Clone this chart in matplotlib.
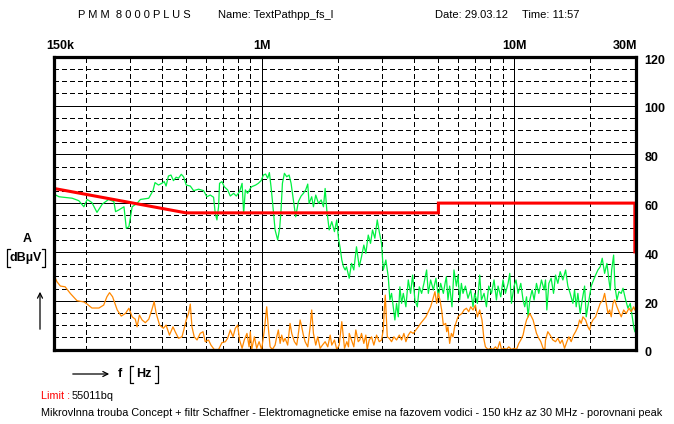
import matplotlib
matplotlib.use('Agg')
import matplotlib.pyplot as plt
import matplotlib.transforms as mtransforms
from matplotlib.lines import Line2D
from matplotlib.patches import FancyArrowPatch

plt.rcParams['font.family'] = ['Liberation Sans', 'DejaVu Sans']

# limit line (dBuV) vs frequency (MHz)
limit_f = [0.15, 0.5, 5.0, 5.0, 30.0, 30.0]
limit_db = [66.0, 56.0, 56.0, 60.0, 60.0, 40.0]

# green trace
green_f = [0.150, 0.157, 0.177, 0.188, 0.197, 0.203, 0.212, 0.222, 0.233, 0.247,
           0.259, 0.263, 0.271, 0.284, 0.290, 0.297, 0.306, 0.320, 0.330, 0.356,
           0.370, 0.377, 0.389, 0.401, 0.410, 0.417, 0.426, 0.436, 0.446, 0.457,
           0.467, 0.479, 0.489, 0.501, 0.520, 0.536, 0.561, 0.587, 0.605, 0.624,
           0.643, 0.653, 0.663, 0.673, 0.679, 0.694, 0.709, 0.731, 0.749, 0.772,
           0.791, 0.815, 0.834, 0.846, 0.859, 0.877, 0.899,
           0.910, 0.944, 0.967, 0.992, 1.013, 1.034, 1.053, 1.070, 1.086, 1.099,
           1.127, 1.154, 1.175, 1.190, 1.205, 1.227, 1.253, 1.281, 1.304, 1.332,
           1.360, 1.394, 1.429, 1.459, 1.490, 1.518, 1.537, 1.574, 1.599, 1.633,
           1.674, 1.716, 1.752, 1.779, 1.806, 1.846, 1.890, 1.937, 1.978, 2.009,
           2.041, 2.071, 2.103, 2.136,
           2.162, 2.216, 2.263, 2.311, 2.368, 2.428, 2.479, 2.532, 2.579, 2.636,
           2.692, 2.741, 2.800, 2.862, 2.914, 2.976, 3.023, 3.096, 3.164, 3.211,
           3.261, 3.312, 3.361, 3.413, 3.467, 3.518, 3.573, 3.629, 3.716, 3.798,
           3.879, 3.951, 4.035, 4.124, 4.200, 4.290, 4.381, 4.490, 4.560, 4.657,
           4.774, 4.888, 4.997, 5.103, 5.230, 5.327,
           5.376, 5.455, 5.540, 5.658, 5.762, 5.890, 5.977, 6.070, 6.165, 6.256,
           6.395, 6.549, 6.712, 6.855, 6.962, 7.136, 7.287, 7.401, 7.580, 7.747,
           7.912, 8.110, 8.305, 8.489, 8.614, 8.829, 9.016, 9.216, 9.438, 9.585,
           9.735, 9.970, 10.15, 10.34, 10.60, 10.82, 10.99, 11.17, 11.33, 11.51,
           11.75, 11.97, 12.23, 12.49, 12.80, 13.11,
           13.28, 13.44, 13.69, 13.98, 14.29, 14.55, 14.86, 15.18, 15.56, 15.95,
           16.28, 16.63, 17.05, 17.31, 17.57, 17.84, 18.22, 18.56, 18.97, 19.25,
           19.73, 20.15, 20.46, 20.97, 21.42, 21.87, 22.28, 22.77, 23.25, 23.68,
           23.97, 24.28, 24.72, 25.02, 25.48, 25.95, 26.50, 26.92, 27.59, 28.17,
           28.77, 29.30, 29.70, 30.0]
green_db = [63.7, 62.6, 62.0, 61.0, 58.5, 61.5, 60.2, 56.2, 59.6, 61.5,
            60.6, 56.5, 57.2, 58.5, 49.7, 50.3, 58.5, 59.9, 61.5, 62.0,
            65.1, 68.4, 67.4, 68.1, 68.8, 67.0, 71.1, 71.5, 69.2, 70.6,
            70.2, 71.8, 70.8, 67.4, 67.0, 65.1, 65.7, 65.1, 62.6, 63.3,
            62.4, 55.8, 53.1, 58.5, 68.1, 68.8, 66.7, 65.4, 62.9, 64.0,
            62.9, 64.7, 68.1, 55.8, 65.4, 64.0, 66.0,
            66.7, 67.4, 68.1, 69.2, 71.5, 71.9, 70.2, 72.5, 66.7, 61.3,
            49.0, 44.9, 49.7, 57.2, 68.1, 72.2, 70.8, 71.5, 68.1, 61.3,
            54.4, 60.6, 62.9, 64.0, 65.4, 67.8, 59.9, 62.6, 58.5, 63.3,
            59.9, 61.3, 58.5, 66.0, 57.2, 49.0, 52.4, 48.3, 53.1, 45.6,
            41.5, 36.7, 33.9, 32.6,
            33.9, 29.2, 35.3, 32.6, 42.1, 33.9, 38.0, 42.8, 39.4, 46.9,
            43.5, 49.0, 45.6, 53.1, 48.3, 43.5, 32.6, 36.7, 29.8, 20.3,
            23.0, 17.5, 12.1, 18.9, 13.4, 25.7, 18.9, 23.0, 17.5, 28.5,
            23.0, 30.5, 20.3, 17.5, 25.7, 23.0, 27.1, 32.6, 23.0, 28.5,
            24.4, 29.2, 21.6, 27.1, 23.0, 27.8,
            29.8, 20.3, 26.0, 17.5, 32.6, 26.0, 30.5, 20.3, 27.1, 23.0,
            26.0, 21.0, 24.4, 17.5, 23.0, 18.9, 30.5, 20.3, 23.0, 17.5,
            26.0, 23.0, 28.5, 20.3, 26.0, 21.6, 28.5, 23.0, 27.1, 31.2,
            18.9, 26.0, 28.5, 23.0, 27.1, 20.3, 17.5, 21.6, 13.4, 20.3,
            24.4, 20.3, 27.1, 23.0, 28.5, 24.4,
            28.5, 16.2, 27.1, 29.2, 23.0, 30.5, 27.1, 31.9, 28.5, 32.6,
            26.0, 23.0, 18.9, 24.4, 17.5, 23.0, 14.8, 20.3, 26.0, 13.4,
            20.3, 26.0, 27.8, 30.5, 32.6, 33.9, 37.4, 31.2, 35.3, 28.5,
            24.4, 32.6, 38.7, 26.0, 20.3, 23.7, 23.0, 25.1, 20.3, 16.9,
            18.9, 13.4, 9.3, 7.3]

# orange trace
orange_f = [0.150, 0.154, 0.159, 0.166, 0.174, 0.185, 0.197, 0.203, 0.212, 0.226,
            0.236, 0.243, 0.249, 0.256, 0.267, 0.277, 0.288, 0.297, 0.306, 0.315,
            0.320, 0.327, 0.335, 0.345, 0.356,
            0.366, 0.374, 0.381, 0.393, 0.407, 0.417, 0.430, 0.444, 0.453, 0.467,
            0.482, 0.492, 0.501, 0.512, 0.520, 0.528, 0.539, 0.553, 0.569, 0.584,
            0.596, 0.614, 0.628, 0.647, 0.673, 0.694, 0.716, 0.731, 0.749, 0.768,
            0.784, 0.801, 0.815, 0.834, 0.851, 0.872, 0.889, 0.899,
            0.910, 0.933, 0.953, 0.974, 0.997, 1.022, 1.044, 1.060, 1.077, 1.099,
            1.127, 1.144, 1.161, 1.180, 1.197, 1.216, 1.235, 1.264, 1.292, 1.312,
            1.344, 1.373, 1.394, 1.416, 1.437, 1.459, 1.482, 1.518, 1.552, 1.574,
            1.599, 1.633, 1.663, 1.700, 1.736, 1.779, 1.822, 1.863, 1.890, 1.937,
            1.978, 2.022, 2.071, 2.123, 2.168, 2.202,
            2.216, 2.263, 2.311, 2.354, 2.406, 2.441, 2.479, 2.532, 2.579, 2.612,
            2.660, 2.717, 2.774, 2.844, 2.914, 2.976, 3.023, 3.051, 3.079, 3.107,
            3.136, 3.193, 3.261, 3.331, 3.413, 3.499, 3.573, 3.649, 3.716, 3.798,
            3.879, 3.976, 4.072, 4.162, 4.250, 4.357, 4.461, 4.560, 4.657, 4.743,
            4.844, 4.920, 4.997, 5.070, 5.150, 5.230, 5.342, 5.391,
            5.455, 5.540, 5.627, 5.710, 5.799, 5.890, 5.977, 6.070, 6.199, 6.314,
            6.454, 6.591, 6.712, 6.855, 7.007, 7.136, 7.287, 7.441, 7.580, 7.676,
            7.860, 8.057, 8.228, 8.410, 8.565, 8.747, 8.885, 9.098, 9.299, 9.497,
            9.735, 9.970, 10.19, 10.41, 10.60, 10.82, 10.99, 11.17, 11.33, 11.51,
            11.69, 11.86, 12.05, 12.23, 12.49, 12.72, 12.99, 13.20,
            13.28, 13.56, 13.85, 14.20, 14.55, 14.86, 15.18, 15.46, 15.80, 16.14,
            16.43, 16.78, 17.16, 17.47, 17.84, 18.12, 18.39, 18.68, 19.14, 19.55,
            19.86, 20.15, 20.46, 20.97, 21.42, 21.87, 22.42, 22.77, 23.11, 23.47,
            23.84, 24.19, 24.57, 24.95, 25.48, 25.95, 26.50, 27.09, 27.74, 28.43,
            29.04, 29.68, 30.0]
orange_db = [30.5, 27.8, 26.0, 25.7, 23.0, 20.0, 19.5, 18.6, 17.0, 17.0,
             18.2, 21.6, 23.3, 21.6, 16.2, 13.7, 14.8, 16.9, 13.4, 12.4,
             9.3, 14.1, 12.1, 11.0, 12.4,
             16.2, 19.6, 14.8, 10.0, 8.7, 10.0, 5.9, 9.3, 7.3, 4.6,
             5.2, 8.7, 12.1, 14.8, 18.6, 9.3, 5.2, 3.9, 6.6, 7.3,
             3.2, 3.9, 1.8, 0.0, 0.0, 2.8, 3.2, 4.6, 8.0, 5.2,
             8.7, 10.0, 3.9, 0.5, 3.9, 6.6, 1.1, 7.3,
             0.0, 5.2, 0.5, 3.2, 0.0, 8.0, 17.5, 8.7, 1.1, 0.0,
             1.8, 5.2, 8.0, 2.5, 5.9, 3.2, 4.6, 1.8, 10.7, 6.6,
             3.2, 1.8, 6.6, 12.1, 9.3, 5.9, 3.2, 1.1, 9.3, 16.2,
             6.6, 1.8, 5.2, 0.5, 1.8, 3.2, 1.1, 5.9, 1.8, 3.9,
             0.0, 1.8, 11.4, 0.5, 3.2, 1.1,
             6.6, 3.9, 1.1, 8.0, 3.2, 3.9, 6.6, 2.5, 5.9, 0.0,
             3.9, 5.2, 1.8, 5.9, 3.2, 3.9, 8.0, 16.2, 22.3, 13.4,
             5.2, 4.6, 3.2, 5.2, 3.9, 5.9, 3.9, 6.6, 3.2, 5.9,
             7.3, 6.6, 8.0, 9.3, 10.7, 12.1, 13.4, 15.5, 17.5, 20.3,
             23.7, 18.9, 23.0, 20.3, 16.2, 10.0, 10.7, 7.3,
             9.3, 2.5, 6.6, 5.2, 9.3, 11.4, 13.4, 14.1, 14.8, 16.2,
             16.9, 15.5, 17.5, 16.2, 18.2, 13.4, 16.2, 12.1, 3.9, 1.1,
             0.0, 0.5, 0.0, 1.1, 0.0, 3.2, 0.0, 0.5, 0.0, 1.1,
             0.0, 0.5, 0.0, 2.5, 3.9, 5.9, 9.3, 12.1, 13.4, 14.8,
             13.4, 12.1, 9.3, 6.6, 4.6, 3.2, 0.5, 0.0,
             3.9, 7.3, 5.9, 3.9, 3.2, 4.6, 2.5, 3.9, 0.5, 3.2,
             5.2, 3.2, 5.9, 7.3, 9.3, 12.1, 10.7, 13.4, 12.1, 9.3,
             8.0, 10.7, 12.1, 13.4, 16.2, 18.9, 20.3, 23.0, 18.9, 14.8,
             16.2, 13.4, 18.9, 20.3, 17.5, 15.5, 13.4, 16.2, 14.8, 16.9,
             15.5, 17.5, 16.2]

y_major = [0, 20, 40, 60, 80, 100, 120]
y_minor = [v for v in range(0, 121, 5) if v % 20]
x_major = [1, 10]
x_minor = [0.2, 0.3, 0.4, 0.5, 0.6, 0.7, 0.8, 0.9, 2, 3, 4, 5, 6, 7, 8, 9, 20]
x_labels = [(0.15, '150k'), (1, '1M'), (10, '10M'), (30, '30M')]

W, H = 674, 424


def fx(px):
    return px / W


def fy(py):
    return 1 - py / H


def bracket(x0, x1, y0, y1):
    for xs in ([x0 + 3, x0, x0, x0 + 3], [x1 - 3, x1, x1, x1 - 3]):
        fig.add_artist(Line2D([fx(v) for v in xs], [fy(y0), fy(y0), fy(y1), fy(y1)],
                              color='black', lw=0.9))


fig = plt.figure(figsize=(W / 100, H / 100), dpi=100)
fig.patch.set_facecolor('white')
ax = fig.add_axes([fx(54), fy(349.5), (636.3 - 54) / W, (349.5 - 56.7) / H])

ax.set_xscale('log')
ax.set_xlim(0.15, 30.4)
ax.set_ylim(0, 120)
ax.set_xticks(x_major)
ax.set_xticks(x_minor, minor=True)
ax.set_yticks(y_major)
ax.set_yticks(y_minor, minor=True)
ax.grid(which='major', color='black', lw=0.7, ls='-', antialiased=False)
ax.grid(which='minor', color='black', lw=0.6, ls=(0, (5, 4.5)), antialiased=False)
ax.tick_params(which='both', length=0, labelbottom=False, labelleft=False)
ax.set_axisbelow(True)
for sp in ax.spines.values():
    sp.set_linewidth(2.3)
    sp.set_color('black')

ax.plot(green_f, green_db, color='#00f040', lw=0.9)
ax.plot(orange_f, orange_db, color='#ff8800', lw=0.9)
ax.plot(limit_f, limit_db, color='#ff0000', lw=2.2, solid_joinstyle='miter')

# right axis labels
trans_r = mtransforms.offset_copy(mtransforms.blended_transform_factory(ax.transAxes, ax.transData),
                                  fig=fig, x=8, y=-4, units='dots')
for v in y_major:
    ax.text(1, v, str(v), transform=trans_r, ha='left', va='center',
            fontsize=9, fontweight='bold')

# top axis labels
trans_t = mtransforms.offset_copy(mtransforms.blended_transform_factory(ax.transData, ax.transAxes),
                                  fig=fig, x=0, y=5, units='dots')
for f, lab in x_labels:
    dx = 0
    if lab == '150k':
        dx = 6
    if lab == '30M':
        dx = -10
    ax.text(f, 1, lab, transform=trans_t + mtransforms.Affine2D().translate(dx, 0),
            ha='center', va='bottom', fontsize=9, fontweight='bold')

# header
fig.text(fx(78), fy(15), 'P M M  8 0 0 0 P L U S', fontsize=8, va='center')
fig.text(fx(218), fy(15), 'Name: TextPathpp_fs_l', fontsize=8, va='center')
fig.text(fx(435), fy(15), 'Date: 29.03.12', fontsize=8, va='center')
fig.text(fx(522), fy(15), 'Time: 11:57', fontsize=8, va='center')

# y axis caption
fig.text(fx(27), fy(239), 'A', fontsize=9, fontweight='bold', ha='center', va='center')
fig.text(fx(26), fy(258), 'dBµV', fontsize=9, fontweight='bold', ha='center', va='center')
bracket(7, 45, 249, 267)
fig.add_artist(FancyArrowPatch((fx(40), fy(332)), (fx(40), fy(289)), transform=fig.transFigure,
                               arrowstyle='->', mutation_scale=9, lw=0.9, color='black'))

# x axis caption
fig.add_artist(FancyArrowPatch((fx(70), fy(374)), (fx(112), fy(374)), transform=fig.transFigure,
                               arrowstyle='->', mutation_scale=9, lw=0.9, color='black'))
fig.text(fx(120), fy(374), 'f', fontsize=9, fontweight='bold', ha='center', va='center')
fig.text(fx(144), fy(374), 'Hz', fontsize=9, fontweight='bold', ha='center', va='center')
bracket(130, 158, 366, 383)

# footer
fig.text(fx(41), fy(396), 'Limit :', fontsize=7.85, color='#ff0000', va='center')
fig.text(fx(72), fy(396), '55011bq', fontsize=7.85, va='center')
fig.text(fx(41), fy(413), 'Mikrovlnna trouba Concept + filtr Schaffner - Elektromagneticke emise na fazovem '
         'vodici - 150 kHz az 30 MHz - porovnani peak', fontsize=7.85, va='center')

fig.savefig('out.png', dpi=100)
